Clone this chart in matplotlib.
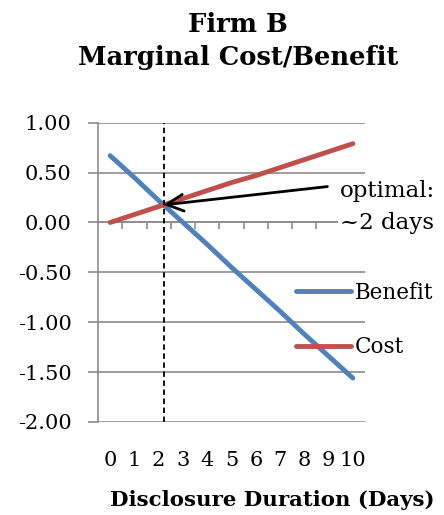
"""Firm B marginal cost / benefit of disclosure duration."""

import matplotlib.pyplot as plt
import numpy as np

days = [0, 1, 2, 3, 4, 5, 6, 7, 8, 9, 10]
benefit = [0.67, 0.45, 0.22, 0.00, -0.22, -0.45, -0.67, -0.89, -1.12, -1.34, -1.56]
cost = [0.00, 0.08, 0.16, 0.24, 0.32, 0.40, 0.47, 0.55, 0.63, 0.71, 0.79]
y_ticks = [-2.0, -1.5, -1.0, -0.5, 0.0, 0.5, 1.0]

BLUE = "#4F81BD"
RED = "#C0504D"
GRID = "#8C8C8C"
SERIF = "DejaVu Serif"

plt.rcParams["font.family"] = SERIF

# crossing point of the two curves (where marginal benefit = marginal cost)
diff = np.array(benefit) - np.array(cost)
i = int(np.where(np.diff(np.sign(diff)) != 0)[0][0])
frac = diff[i] / (diff[i] - diff[i + 1])
opt_x = days[i] + frac
opt_y = cost[i] + frac * (cost[i + 1] - cost[i])

fig = plt.figure(figsize=(4.44, 5.15), dpi=100)
ax = fig.add_axes([0.2207, 0.1806, 0.6014, 0.5811])

ax.plot(days, benefit, color=BLUE, linewidth=3.5, solid_capstyle="round", label="Benefit", zorder=3)
ax.plot(days, cost, color=RED, linewidth=3.5, solid_capstyle="round", label="Cost", zorder=3)
ax.axvline(opt_x, color="black", linestyle=(0, (3, 2)), linewidth=1.3, zorder=4)

ax.set_xlim(-0.5, 10.5)
ax.set_ylim(-2.0, 1.0)
ax.set_yticks(y_ticks)
ax.set_yticklabels([f"{v:.2f}" for v in y_ticks], fontsize=15)
ax.yaxis.grid(True, color=GRID, linewidth=1.2)
ax.set_axisbelow(True)

for side in ["top", "right"]:
    ax.spines[side].set_visible(False)
ax.spines["left"].set_color(GRID)
ax.spines["left"].set_linewidth(1.2)
ax.spines["bottom"].set_position(("data", 0))
ax.spines["bottom"].set_color(GRID)
ax.spines["bottom"].set_linewidth(1.2)

ax.tick_params(axis="y", direction="out", length=7, width=1.2, color=GRID, pad=12)

# category labels sit under the plot, tick marks between categories on the zero axis
ax_h_pt = fig.get_figheight() * 0.5811 * 72
label_pad = ax_h_pt * (0 - (-2.0)) / 3.0 + 21
ax.set_xticks(days)
ax.set_xticklabels([str(d) for d in days], fontsize=15)
ax.set_xticks([d + 0.5 for d in days[:-1]], minor=True)
ax.tick_params(axis="x", which="major", length=0, pad=label_pad)
ax.tick_params(axis="x", which="minor", direction="out", length=5, width=1.2, color=GRID)

ax.annotate(
    "",
    xy=(opt_x, opt_y),
    xytext=(8.95, 0.36),
    arrowprops=dict(arrowstyle="->", color="black", lw=2.0, mutation_scale=30, shrinkA=0, shrinkB=0),
    annotation_clip=False,
    zorder=5,
)
ax.text(
    9.45, 0.155, "optimal:\n~2 days",
    ha="left", va="center", fontsize=16.5, linespacing=1.55,
    bbox=dict(facecolor="white", edgecolor="none", pad=1),
    clip_on=False, zorder=6,
)

fig.legend(
    loc="center left",
    bbox_to_anchor=(296 / 444, 1 - 320 / 515),
    frameon=False,
    fontsize=15.5,
    handlelength=2.55,
    handletextpad=0.2,
    labelspacing=1.5,
    borderaxespad=0,
    borderpad=0,
)

fig.text(0.536, 1 - 12 / 515, "Firm B\nMarginal Cost/Benefit", ha="center", va="top",
         fontsize=18.5, fontweight="bold", linespacing=1.4)
fig.text(272 / 444, 1 - 500 / 515, "Disclosure Duration (Days)", ha="center", va="center",
         fontsize=15.3, fontweight="bold")

fig.savefig("out.png", dpi=100)
